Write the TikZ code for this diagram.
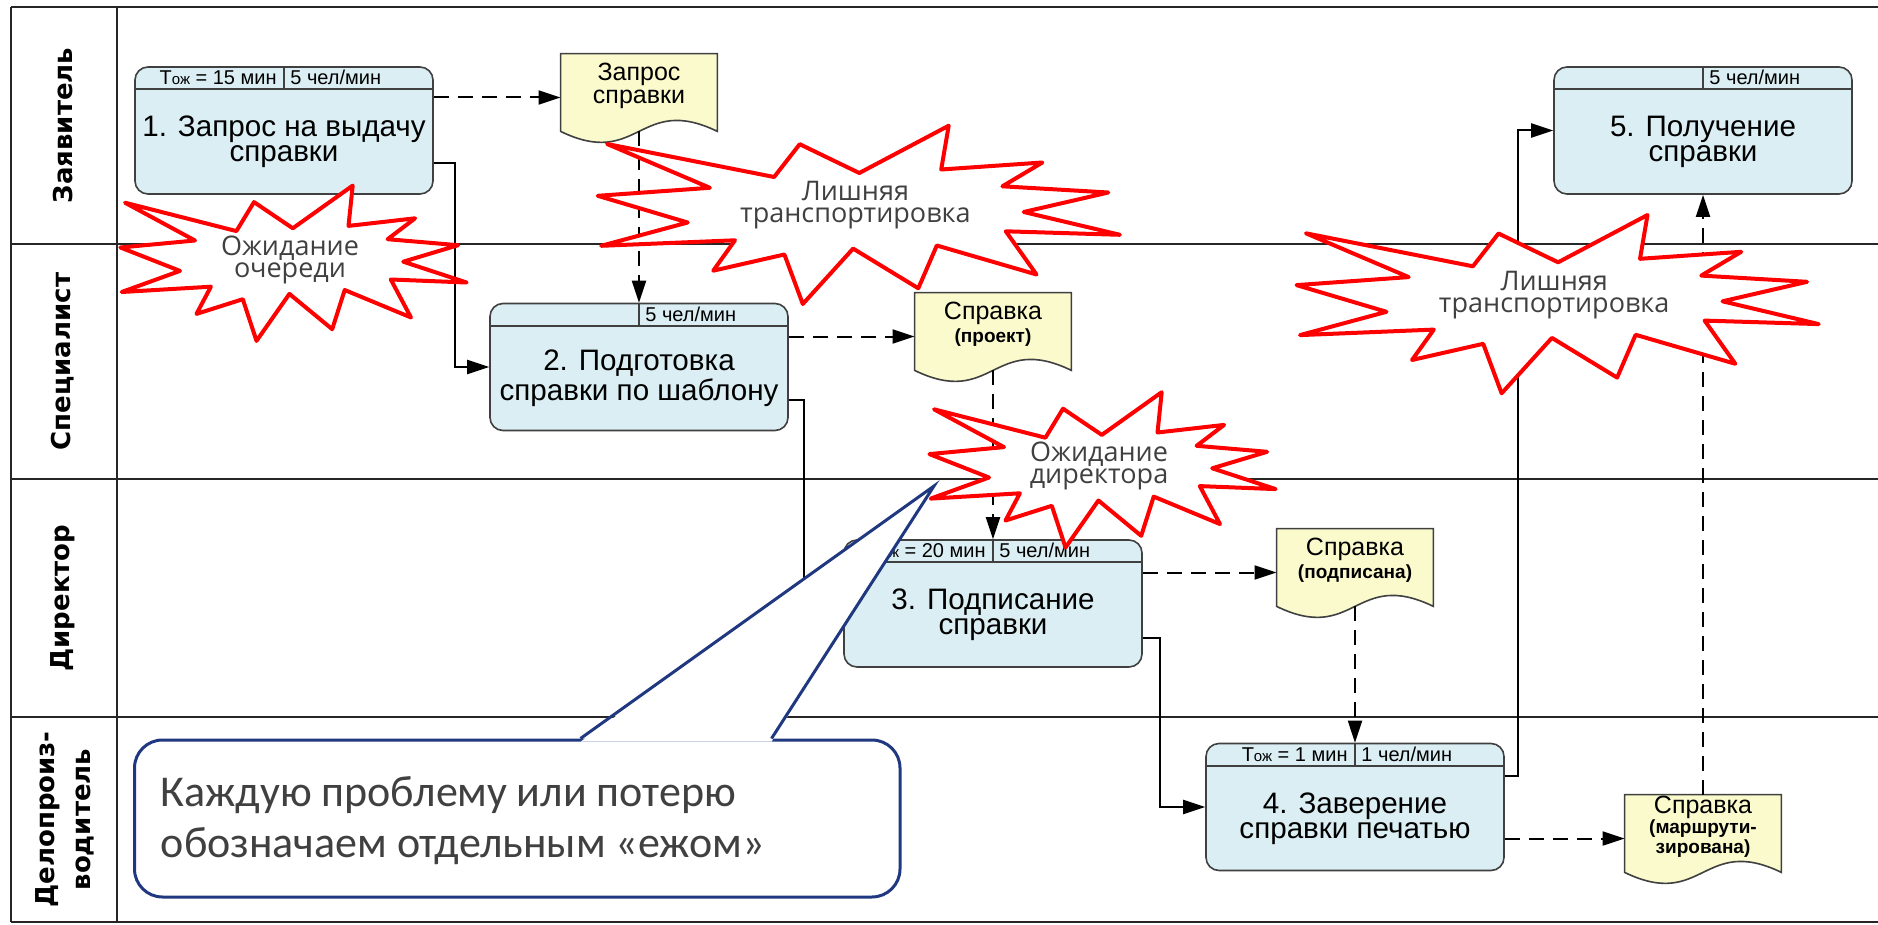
\documentclass[tikz,border=0pt]{standalone}
\usepackage{fontspec}
\setmainfont{Liberation Sans}
\newfontfamily\lanefont{DejaVu Sans}
\newfontfamily\hogfont{Open Sans}
\newfontfamily\callfont{Carlito}
\usetikzlibrary{arrows.meta,calc}
\definecolor{boxfill}{RGB}{218,238,243}
\definecolor{docfill}{RGB}{250,250,205}
\definecolor{edgegray}{RGB}{64,64,64}
\definecolor{hoggray}{RGB}{64,64,64}
\definecolor{navyline}{RGB}{32,56,128}
\newcommand\tozh{Т{\fontsize{7.5}{7.5}\selectfont ож}}
\newcommand\docoutline[1]{\path[docline] (#1.north west) -- (#1.north east) -- (#1.south east) .. controls ($(#1.south)+(0,19pt)$) and ($(#1.south)+(0,-19pt)$) .. (#1.south west) -- cycle;}
\def\hogS{(0,0) -- (111.4,28.4) -- (129,-0.6) -- (167.8,25.6) -- (227.7,-17.1) -- (223.5,23.2) -- (290.1,15.6) -- (262.6,36.5) -- (333.1,42.5) -- (278.2,59) -- (341.6,79.8) -- (265.8,76.8) -- (286,114.8) -- (219.7,87.3) -- (207.2,126.5) -- (164.4,91.2) -- (131.5,138.2) -- (117.8,96.5) -- (71.5,111.2) -- (85.9,84) -- (-3.3,89.3) -- (55,68.2) -- (-4.6,44.8) -- (70,37.8) -- cycle}
\def\hogL{(0,0) -- (167,33) -- (192.6,0.2) -- (252.2,29) -- (341.6,-18.3) -- (334.1,25.5) -- (435.3,18.5) -- (395.3,42.3) -- (501.2,48.5) -- (416.6,68) -- (512.8,90.8) -- (398.7,87.3) -- (429.4,130.5) -- (329.7,101.5) -- (311.2,144.3) -- (246,104.6) -- (195.7,160) -- (177.3,110.5) -- (106.1,126.7) -- (127.9,96.3) -- (-5.9,101.8) -- (80.6,78.5) -- (-9.4,51.8) -- (102.8,43.8) -- cycle}
\tikzset{
  lane/.style={draw=black!85, line width=1pt},
  proc/.style={draw=edgegray, fill=boxfill, line width=0.8pt, rounded corners=6.5pt, minimum width=149pt, minimum height=63.5pt, inner sep=0pt},
  hdrline/.style={draw=edgegray, line width=0.8pt},
  proctext/.style={align=center, font=\fontsize{14.8}{12.5}\selectfont, inner sep=0pt},
  hdr/.style={font=\fontsize{10}{10}\selectfont, inner sep=0pt},
  docbox/.style={minimum width=78pt, minimum height=38.5pt, inner sep=0pt},
  docline/.style={draw=edgegray, fill=docfill, line width=0.8pt},
  doctext/.style={align=center, font=\fontsize{12.5}{11.5}\selectfont, inner sep=0pt},
  flow/.style={draw=black, line width=1pt, -{Triangle[length=11pt,width=7pt]}},
  dflow/.style={flow, dash pattern=on 7.5pt off 4.5pt},
  hog/.style={draw=red, fill=white, line width=2pt, line join=round},
  hogtext/.style={align=center, text=hoggray, font=\hogfont\fontsize{13.5}{11}\selectfont, inner sep=0pt},
  lanelabel/.style={rotate=90, align=center, font=\lanefont\bfseries\fontsize{13}{18}\selectfont, inner sep=0pt},
  callbox/.style={draw=navyline, fill=white, line width=1.5pt, rounded corners=14pt, minimum width=382.75pt, minimum height=78.5pt, inner sep=0pt},
  calltext/.style={align=left, text=hoggray, font=\callfont\fontsize{22}{25.5}\selectfont, inner sep=0pt},
}
\begin{document}
\begin{tikzpicture}[x=0.5pt,y=-0.5pt]
\useasboundingbox (0,0) rectangle (1878,925);
\fill[white] (0,0) rectangle (1878,925);
% lanes
\draw[lane] (11,7) -- (1878,7);
\draw[lane] (11,244) -- (1878,244);
\draw[lane] (11,479) -- (1878,479);
\draw[lane] (11,717) -- (1878,717);
\draw[lane] (11,922) -- (1878,922);
\draw[lane] (11,7) -- (11,922);
\draw[lane] (117,7) -- (117,922);
\node[lanelabel] (l1) at (63,125.5) {Заявитель};
\node[lanelabel] (l2) at (63,361.5) {Специалист};
\node[lanelabel] (l3) at (63,598) {Директор};
\node[lanelabel] (l4) at (65,819.5) {Делопроиз-\\водитель};
% process boxes
\node[proc] (b1) at (284,130.5) {};
\node[proc] (b2) at (639,367) {};
\node[proc] (b3) at (993,603.5) {};
\node[proc] (b4) at (1355,807) {};
\node[proc] (b5) at (1703,130.5) {};
\foreach \b in {b1,b2,b3,b4,b5}{
  \draw[hdrline] ([yshift=-11.5pt]\b.north west) -- ([yshift=-11.5pt]\b.north east);
  \draw[hdrline] (\b.north) -- ([yshift=-11.5pt]\b.north);
}
\node[hdr, anchor=east] (b1hl) at ($(b1.north)+(-3.5pt,-5.75pt)$) {\tozh{} = 15 мин};
\node[hdr, anchor=west] (b1hr) at ($(b1.north)+(3pt,-5.75pt)$) {5 чел/мин};
\node[hdr, anchor=west] (b2hr) at ($(b2.north)+(3pt,-5.75pt)$) {5 чел/мин};
\node[hdr, anchor=east] (b3hl) at ($(b3.north)+(-3.5pt,-5.75pt)$) {\tozh{} = 20 мин};
\node[hdr, anchor=west] (b3hr) at ($(b3.north)+(3pt,-5.75pt)$) {5 чел/мин};
\node[hdr, anchor=east] (b4hl) at ($(b4.north)+(-3.5pt,-5.75pt)$) {\tozh{} = 1 мин};
\node[hdr, anchor=west] (b4hr) at ($(b4.north)+(3pt,-5.75pt)$) {1 чел/мин};
\node[hdr, anchor=west] (b5hr) at ($(b5.north)+(3pt,-5.75pt)$) {5 чел/мин};
\node[proctext] (b1t) at ([yshift=-5.75pt]b1.center) {1. Запрос на выдачу\\справки};
\node[proctext] (b2t) at ([yshift=-5.75pt]b2.center) {2. Подготовка\\справки по шаблону};
\node[proctext] (b3t) at ([yshift=-5.75pt]b3.center) {3. Подписание\\справки};
\node[proctext] (b4t) at ([yshift=-5.75pt]b4.center) {4. Заверение\\справки печатью};
\node[proctext] (b5t) at ([yshift=-5.75pt]b5.center) {5. Получение\\справки};
% documents
\node[docbox] (d1) at (639,92.5) {};
\node[docbox] (d2) at (993,331.5) {};
\node[docbox] (d3) at (1355,567.5) {};
\node[docbox] (d4) at (1703,833.5) {};
\docoutline{d1}\docoutline{d2}\docoutline{d3}\docoutline{d4}
\node[doctext] (d1t) at ([yshift=3.5pt]d1.center) {Запрос\\справки};
\node[doctext] (d2t) at ([yshift=3.5pt]d2.center) {Справка\\{\bfseries\fontsize{9.5}{11.5}\selectfont (проект)}};
\node[doctext] (d3t) at ([yshift=3.5pt]d3.center) {Справка\\{\bfseries\fontsize{9.5}{10.5}\selectfont (подписана)}};
\node[doctext, font=\fontsize{12.5}{10}\selectfont] (d4t) at ([yshift=3.5pt]d4.center) {Справка\\{\bfseries\fontsize{9.5}{10}\selectfont (маршрути-}\\{\bfseries\fontsize{9.5}{10}\selectfont зирована)}};
% connectors
\coordinate (d1o) at ([yshift=-2.5pt]d1.west);
\coordinate (d2o) at ([yshift=-2.5pt]d2.west);
\coordinate (d3o) at ([yshift=-2.5pt]d3.west);
\coordinate (d4o) at ([yshift=-2.5pt]d4.west);
\draw[dflow] (b1.east |- d1o) -- (d1o);
\draw[dflow] (b2.east |- d2o) -- (d2o);
\draw[dflow] (b3.east |- d3o) -- (d3o);
\draw[dflow] (b4.east |- d4o) -- (d4o);
\draw[dflow] (d1.south) -- (b2.north);
\draw[dflow] (d2.south) -- (b3.north);
\draw[dflow] (d3.south) -- (b4.north);
\draw[dflow] (d4.north) -- (b5.south);
\draw[flow] ([yshift=16pt]b1.south east) -| ([xshift=-17pt]b2.west) -- (b2.west);
\draw[flow] ([yshift=15.5pt]b2.south east) -| ([xshift=-19.5pt]b3.west) -- (b3.west);
\draw[flow] ([yshift=15pt]b3.south east) -| ([xshift=-22.5pt]b4.west) -- (b4.west);
\draw[flow] ([yshift=-16.5pt]b4.north east) -| ([xshift=-17.5pt]b5.west) -- (b5.west);
% callout
\node[callbox] (cb) at (517.25,818.5) {};
\node[calltext, anchor=west] (ct) at ([xshift=13.75pt,yshift=-1pt]cb.west) {Каждую проблему или потерю\\обозначаем отдельным «ежом»};
\coordinate (tip) at (934,486);
\coordinate (pa) at ([xshift=223.75pt]cb.north west);
\coordinate (pb) at ([xshift=319.25pt]cb.north west);
\fill[white] ([yshift=-1.6pt]pa) -- (tip) -- ([yshift=-1.6pt]pb) -- cycle;
\draw[navyline, line width=1.5pt, line join=miter] (pa) -- (tip) -- (pb);
% hedgehogs
\begin{scope}[shift={(125,202.7)}]
\draw[hog] \hogS;
\node[hogtext] (hq) at (165,57) {Ожидание\\очереди};
\end{scope}
\begin{scope}[shift={(934,409.3)}]
\draw[hog] \hogS;
\node[hogtext] (hd) at (165,57) {Ожидание\\директора};
\end{scope}
\begin{scope}[shift={(607.1,144)}]
\draw[hog] \hogL;
\node[hogtext] (ht1) at (248.3,61.4) {Лишняя\\транспортировка};
\end{scope}
\begin{scope}[shift={(1305.9,233.3)}]
\draw[hog] \hogL;
\node[hogtext] (ht2) at (248.3,61.4) {Лишняя\\транспортировка};
\end{scope}
\end{tikzpicture}
\end{document}
